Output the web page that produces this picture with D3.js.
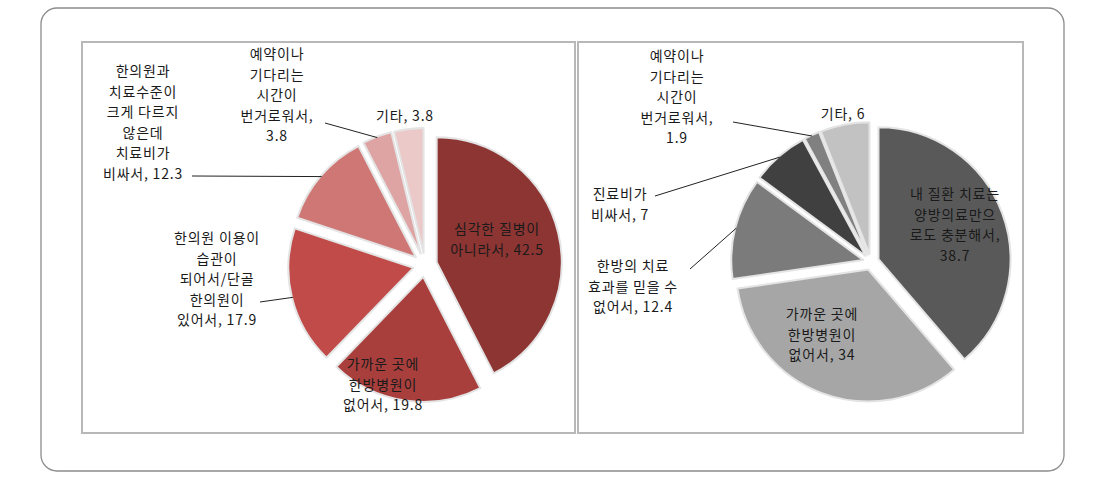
<!DOCTYPE html>
<html>
<head>
<meta charset="utf-8">
<script src="https://cdn.jsdelivr.net/npm/d3@7"></script>
<style>
  body { margin: 0; background: #fff; }
  svg { display: block; font-family: "Noto Sans CJK KR", "Noto Sans", sans-serif; }
</style>
</head>
<body>
<div id="chart"></div>
<script>
// data
var leftCategories = ["심각한 질병이\n아니라서", "가까운 곳에\n한방병원이\n없어서", "한의원 이용이\n습관이\n되어서/단골\n한의원이\n있어서",
  "한의원과\n치료수준이\n크게 다르지\n않은데\n치료비가\n비싸서", "예약이나\n기다리는\n시간이\n번거로워서", "기타"];
var leftValues = [42.5, 19.8, 17.9, 12.3, 3.8, 3.8];
var leftColors = ["#8c3533", "#a83f3d", "#c04b49", "#cf7774", "#dea4a3", "#ebc9c8"];

var rightCategories = ["내 질환 치료는\n양방의료만으\n로도 충분해서", "가까운 곳에\n한방병원이\n없어서", "한방의 치료\n효과를 믿을 수\n없어서",
  "진료비가\n비싸서", "예약이나\n기다리는\n시간이\n번거로워서", "기타"];
var rightValues = [38.7, 34, 12.4, 7, 1.9, 6];
var rightColors = ["#595959", "#a6a6a6", "#7b7b7b", "#404040", "#808080", "#c2c2c2"];

// label layout (center x, first line y, separator, leader start)
var leftLayout = [
  {x: 497, y: 228, sep: ", "},
  {x: 383, y: 363, sep: ", "},
  {x: 217, y: 237, sep: ", ", lead: [260, 302]},
  {x: 143, y: 70, sep: ", ", lead: [192, 176]},
  {x: 277, y: 53, sep: ",\n", lead: [325, 123]},
  {x: 405, y: 115, sep: ", "}
];
var rightLayout = [
  {x: 955, y: 193, sep: ",\n"},
  {x: 822, y: 313, sep: ", "},
  {x: 633, y: 265, sep: ", ", lead: [690, 269]},
  {x: 620, y: 193, sep: ", ", lead: [655, 196]},
  {x: 677, y: 55, sep: ",\n", lead: [733, 122]},
  {x: 843, y: 113, sep: ", "}
];

var W = 1095, H = 480;
var svg = d3.select("#chart").append("svg")
  .attr("width", W)
  .attr("height", H);

// frames
svg.append("rect")
  .attr("x", 41).attr("y", 8).attr("width", 1023).attr("height", 463)
  .attr("rx", 16).attr("ry", 16)
  .style("fill", "none").style("stroke", "#8c8c8c").style("stroke-width", 1.3);
svg.append("rect")
  .attr("x", 82).attr("y", 42).attr("width", 493).attr("height", 391)
  .style("fill", "none").style("stroke", "#b8b8b8").style("stroke-width", 2);
svg.append("rect")
  .attr("x", 578).attr("y", 42).attr("width", 445).attr("height", 391)
  .style("fill", "none").style("stroke", "#b8b8b8").style("stroke-width", 2);

function drawPie(cats, vals, colors, layout, cx, cy, r, explode) {
  var pie = d3.pie().sort(null).value(function(d) { return d; });
  var arcs = pie(vals);
  var arc = d3.arc().innerRadius(0).outerRadius(r);
  var g = svg.append("g").attr("transform", "translate(" + cx + "," + cy + ")");

  function offset(d) {
    var a = (d.startAngle + d.endAngle) / 2;
    return [Math.sin(a) * explode, -Math.cos(a) * explode];
  }

  g.selectAll("path.slice")
    .data(arcs)
    .enter()
    .append("path")
    .attr("class", "slice")
    .attr("d", arc)
    .attr("transform", function(d) { var o = offset(d); return "translate(" + o[0] + "," + o[1] + ")"; })
    .style("fill", function(d, i) { return colors[i]; })
    .style("stroke", "#e4e4e4")
    .style("stroke-width", 2)
    .style("stroke-linejoin", "round");

  // leader lines
  arcs.forEach(function(d, i) {
    var L = layout[i];
    if (!L.lead) return;
    var a = (d.startAngle + d.endAngle) / 2;
    var o = offset(d);
    var ex = cx + o[0] + Math.sin(a) * (r - 1);
    var ey = cy + o[1] - Math.cos(a) * (r - 1);
    svg.append("line")
      .attr("x1", L.lead[0]).attr("y1", L.lead[1])
      .attr("x2", ex).attr("y2", ey)
      .style("stroke", "#222").style("stroke-width", 1);
  });

  // labels
  arcs.forEach(function(d, i) {
    var L = layout[i];
    var lines = (cats[i] + L.sep + vals[i]).split("\n");
    var t = svg.append("text")
      .attr("text-anchor", "middle")
      .style("font-size", "14px")
      .style("letter-spacing", "0.8px")
      .style("fill", "#1a1a1a");
    lines.forEach(function(s, k) {
      t.append("tspan")
        .attr("x", L.x)
        .attr("y", L.y + k * 20.6)
        .attr("dominant-baseline", "central")
        .text(s);
    });
  });
}

drawPie(leftCategories, leftValues, leftColors, leftLayout, 425, 265, 125, 12);
drawPie(rightCategories, rightValues, rightColors, rightLayout, 871, 262, 132, 8);
</script>
</body>
</html>
